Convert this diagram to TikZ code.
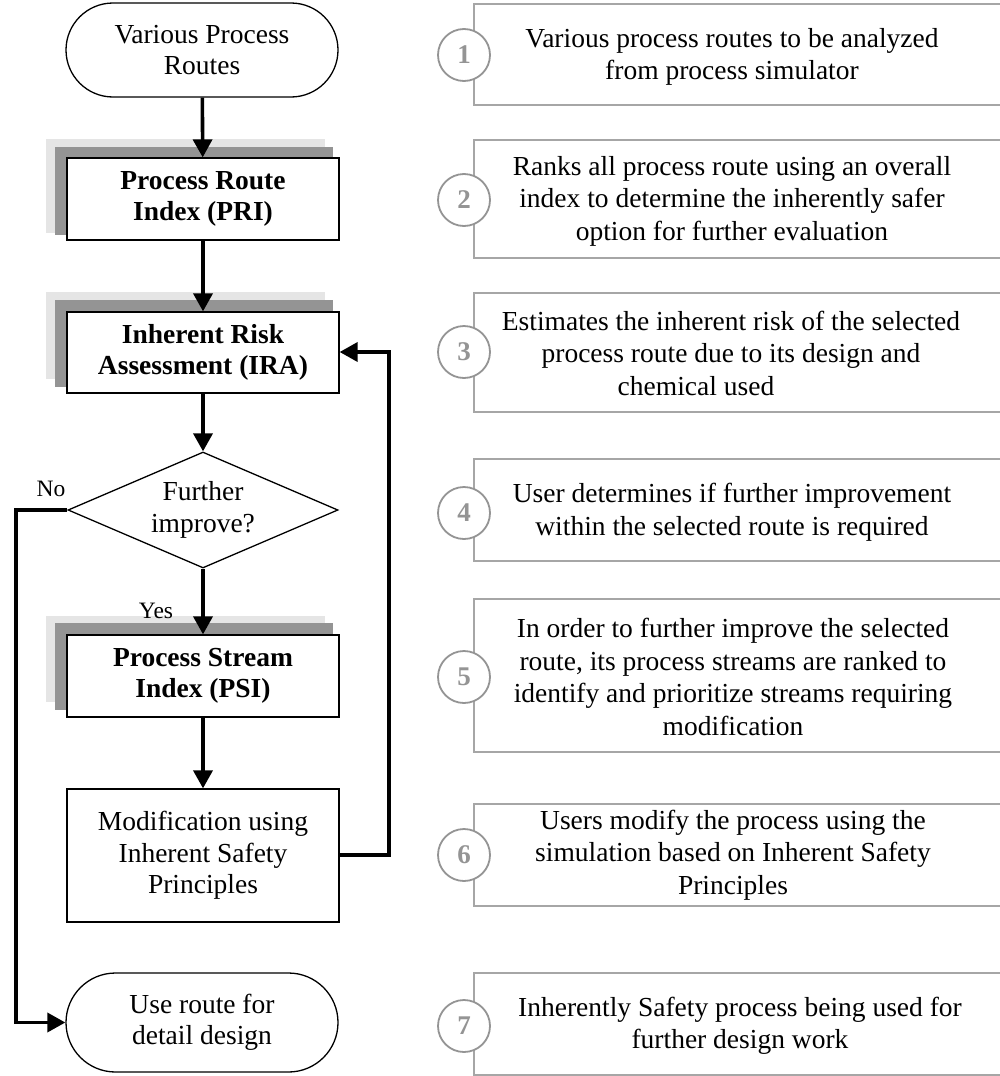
\documentclass[tikz,border=0pt]{standalone}
\usepackage{fontspec}
\setmainfont{Liberation Serif}
\usetikzlibrary{shapes.geometric,shapes.misc,arrows.meta}
\begin{document}
\begin{tikzpicture}[x=1pt,y=-1pt,
  every node/.style={font=\fontsize{27.5}{31.5}\selectfont, align=center, inner sep=0pt},
  box/.style={draw=black, line width=1.3pt, fill=white, rectangle, minimum width=272pt},
  term/.style={draw=black, line width=1.3pt, fill=white, rounded rectangle, rounded rectangle arc length=180, minimum width=272pt},
  dec/.style={draw=black, line width=1.3pt, fill=white, diamond, aspect=2.33, minimum width=270pt, minimum height=116pt},
  shlight/.style={fill=black!10},
  shdark/.style={fill=black!42},
  flow/.style={line width=3.6pt, -{Triangle[length=18pt,width=19pt]}},
  rbox/.style={draw=black!35, line width=1.6pt},
  num/.style={circle, draw=black!42, line width=1.8pt, fill=white, minimum size=52pt, text=black!42, font=\fontsize{27}{30}\selectfont\bfseries},
  desc/.style={font=\fontsize{27.5}{32.5}\selectfont},
  lbl/.style={font=\fontsize{23.5}{26}\selectfont, anchor=base}
]
\useasboundingbox (0,0) rectangle (999,1076);

% shadows
\fill[shlight] (46,139) rectangle (325,233);
\fill[shdark] (55,147) rectangle (333,235);
\fill[shlight] (46,292) rectangle (325,379);
\fill[shdark] (55,300) rectangle (333,387);
\fill[shlight] (46,616) rectangle (325,702);
\fill[shdark] (55,623) rectangle (333,710);

% left column nodes
\node[term, minimum height=94pt] (start) at (202,50) {Various Process\\Routes};
\node[box, minimum height=82pt] (pri) at (203,199) {\bfseries Process Route\\\bfseries Index (PRI)};
\node[box, minimum height=81pt] (ira) at (203,352.5) {\bfseries Inherent Risk\\\bfseries Assessment (IRA)};
\node[dec] (dec) at (203,510) {Further\\improve?};
\node[box, minimum height=82pt] (psi) at (203,676) {\bfseries Process Stream\\\bfseries Index (PSI)};
\node[box, minimum height=133pt] (mod) at (203,855.5) {Modification using\\Inherent Safety\\Principles};
\node[term, minimum height=99pt] (fin) at (202,1022.5) {Use route for\\detail design};

\node[lbl] (no) at (51,496) {No};
\node[lbl] (yes) at (156,618) {Yes};

\coordinate (nA) at (16,510);
\coordinate (nB) at (16,1022.5);
\coordinate (fA) at (389,855);
\coordinate (fB) at (389,352);

% connectors
\draw[flow] (start) -- (pri);
\draw[flow] (pri) -- (ira);
\draw[flow] (ira) -- (dec);
\draw[flow] (dec) -- (psi);
\draw[flow] (psi) -- (mod);
\draw[flow] (dec.west) -- (nA) -- (nB) -- (fin.west);
\draw[flow] (mod.east |- fA) -- (fA) -- (fB) -- (ira.east |- fB);

% right column
\draw[rbox] (1005,4) -- (474,4) -- (474,105) -- (1005,105);
\draw[rbox] (1005,140) -- (474,140) -- (474,258) -- (1005,258);
\draw[rbox] (1005,293) -- (474,293) -- (474,412) -- (1005,412);
\draw[rbox] (1005,459) -- (474,459) -- (474,561) -- (1005,561);
\draw[rbox] (1005,599) -- (474,599) -- (474,752) -- (1005,752);
\draw[rbox] (1005,804) -- (474,804) -- (474,906) -- (1005,906);
\draw[rbox] (1005,973) -- (474,973) -- (474,1075) -- (1005,1075);

\node[num] (n1) at (464,55) {1};
\node[num] (n2) at (464,200) {2};
\node[num] (n3) at (464,352) {3};
\node[num] (n4) at (464,513) {4};
\node[num] (n5) at (464,677) {5};
\node[num] (n6) at (464,855) {6};
\node[num] (n7) at (464,1026) {7};

\node[desc] (d1) at (732,57) {Various process routes to be analyzed\\from process simulator};
\node[desc] (d2) at (732,201) {Ranks all process route using an overall\\index to determine the inherently safer\\option for further evaluation};
\node[desc] (d3) at (731,353) {Estimates the inherent risk of the selected\\process route due to its design and\\\hspace*{-70pt}chemical used};
\node[desc] (d4) at (732,512) {User determines if further improvement\\within the selected route is required};
\node[desc] (d5) at (733,677) {In order to further improve the selected\\route, its process streams are ranked to\\identify and prioritize streams requiring\\modification};
\node[desc] (d6) at (733,855) {Users modify the process using the\\simulation based on Inherent Safety\\Principles};
\node[desc] (d7) at (740,1026) {Inherently Safety process being used for\\further design work};
\end{tikzpicture}
\end{document}
